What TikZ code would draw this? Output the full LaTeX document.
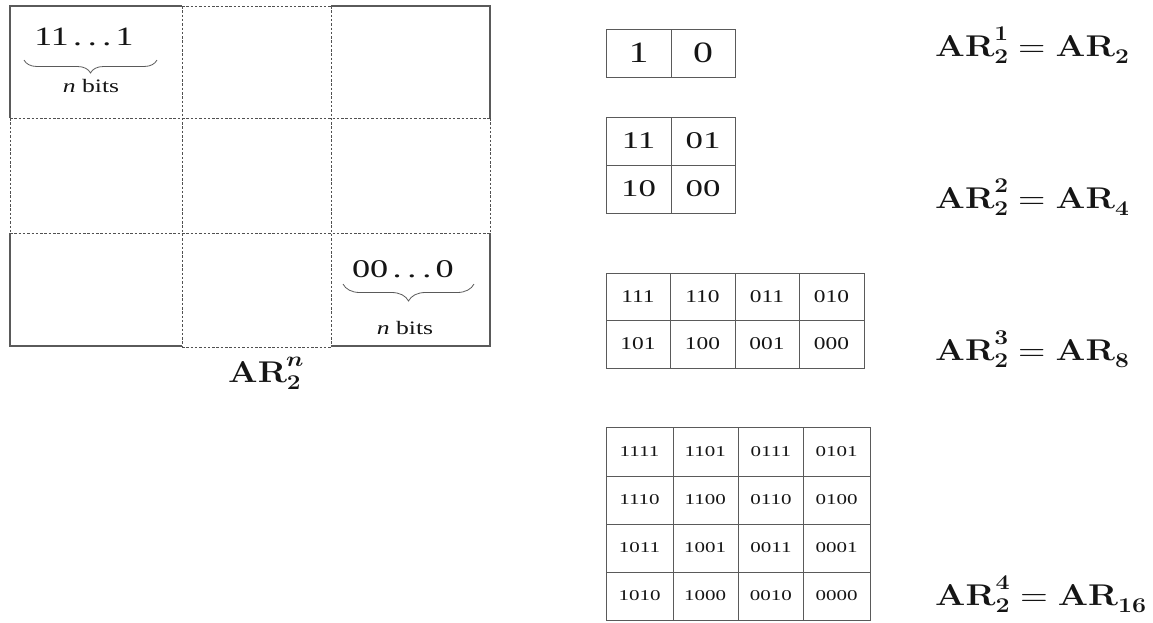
\documentclass[tikz,border=0pt]{standalone}
\usepackage{graphicx}
\usepackage{fontspec}
\usepackage{amsmath}
\usepackage{unicode-math}
\setmathfont{Latin Modern Math}
\newfontfamily\timesface{Liberation Serif}
\usetikzlibrary{decorations.pathreplacing}
\definecolor{linegray}{HTML}{5A5A5A}
\definecolor{inkdark}{HTML}{151515}
% horizontally widened text
\newcommand{\xwide}[2][1.35]{\scalebox{#1}[1]{#2}}
\newcommand{\spdots}{\kern0.12em.\kern0.16em.\kern0.16em.\kern0.12em}
\tikzset{
  solidedge/.style={draw=linegray, line width=1.2pt},
  dotedge/.style={draw=linegray!90!black, line width=1pt, dash pattern=on 2.5pt off 1.8pt},
  tableline/.style={draw=linegray, line width=1pt},
  bitbrace/.style={draw=linegray, line width=0.8pt, decorate,
    decoration={brace, mirror, amplitude=#1}},
  bigbits/.style={text=inkdark, inner sep=0pt, anchor=base, font=\timesface\fontsize{26.5}{30}\selectfont},
  smallnote/.style={text=inkdark, inner sep=0pt, anchor=base, font=\timesface\fontsize{19}{22}\selectfont},
  eqlabel/.style={text=inkdark, inner sep=0pt, anchor=base west, font=\fontsize{30}{36}\selectfont},
  cellA/.style={text=inkdark, inner sep=0pt, font=\timesface\fontsize{29.5}{34}\selectfont},
  cellB/.style={text=inkdark, inner sep=0pt, font=\timesface\fontsize{24}{28}\selectfont},
  cellC/.style={text=inkdark, inner sep=0pt, font=\timesface\fontsize{18}{22}\selectfont},
  cellD/.style={text=inkdark, inner sep=0pt, font=\timesface\fontsize{15}{18}\selectfont},
}
\begin{document}
\begin{tikzpicture}[x=1pt,y=-1pt]
\useasboundingbox (0,0) rectangle (1153,622);

% ---- 3x3 block layout of AR_2^n ----
% inner grid lines and the middle parts of the border, dotted
\draw[dotedge] (182,6) -- (182,347);
\draw[dotedge] (331,6) -- (331,347);
\draw[dotedge] (10,118) -- (490,118);
\draw[dotedge] (10,233) -- (490,233);
\draw[dotedge] (182,6) -- (331,6);
\draw[dotedge] (182,347) -- (331,347);
\draw[dotedge] (10,118) -- (10,233);
\draw[dotedge] (490,118) -- (490,233);
% the four corner blocks have solid outer edges
\draw[solidedge] (182,6) -- (10,6) -- (10,118);
\draw[solidedge] (331,6) -- (490,6) -- (490,118);
\draw[solidedge] (10,233) -- (10,346) -- (182,346);
\draw[solidedge] (490,233) -- (490,346) -- (331,346);

% all-ones code in the first block
\node[bigbits] (ones) at (84,45) {\xwide{11\spdots1}};
\coordinate (onesL) at (24,60);
\coordinate (onesR) at (157,60);
\draw[bitbrace=13pt] (onesL) -- (onesR);
\node[smallnote] (onesn) at (91,92) {\xwide{\textit{n} bits}};

% all-zeros code in the last block
\node[bigbits, font=\timesface\fontsize{25.5}{30}\selectfont] (zeros) at (403,277) {\xwide[1.42]{00\spdots0}};
\coordinate (zerosL) at (343,284);
\coordinate (zerosR) at (474,284);
\draw[bitbrace=17pt] (zerosL) -- (zerosR);
\node[smallnote] (zerosn) at (405,334) {\xwide{\textit{n} bits}};

\node[eqlabel] (arn) at (228,382) {\xwide[1.16]{$\mathbf{AR}_{\mathbf{2}}^{\symbfit{n}}$}};

% ---- AR_2 : 1 x 2 ----
\draw[tableline] (606,29) rectangle (735,77);
\draw[tableline] (671,29) -- (671,77);
\node[cellA] (a1) at (638.5,53) {\xwide{1}};
\node[cellA] (a0) at (703,53) {\xwide{0}};

% ---- AR_4 : 2 x 2 ----
\draw[tableline] (606,117) rectangle (735,213);
\draw[tableline] (671,117) -- (671,213);
\draw[tableline] (606,165) -- (735,165);
\node[cellB] (b11) at (638.5,141) {\xwide[1.45]{11}};
\node[cellB] (b01) at (703,141) {\xwide[1.45]{01}};
\node[cellB] (b10) at (638.5,189) {\xwide[1.45]{10}};
\node[cellB] (b00) at (703,189) {\xwide[1.45]{00}};

% ---- AR_8 : 2 x 4 ----
\draw[tableline] (606,273) rectangle (864,368);
\foreach \x in {670,735,799} \draw[tableline] (\x,273) -- (\x,368);
\draw[tableline] (606,320) -- (864,320);
\foreach \t [count=\i from 0] in {111,110,011,010}
  \node[cellC] (c1\i) at ({638+64.5*\i},296.5) {\xwide[1.3]{\t}};
\foreach \t [count=\i from 0] in {101,100,001,000}
  \node[cellC] (c2\i) at ({638+64.5*\i},344) {\xwide[1.3]{\t}};

% ---- AR_16 : 4 x 4 ----
\draw[tableline] (606,427) rectangle (870,620);
\foreach \x in {673,738,803} \draw[tableline] (\x,427) -- (\x,620);
\foreach \y in {476,524,572} \draw[tableline] (606,\y) -- (870,\y);
\foreach \row/\yy [count=\r] in {{1111,1101,0111,0101}/451.5,
                                 {1110,1100,0110,0100}/500,
                                 {1011,1001,0011,0001}/548,
                                 {1010,1000,0010,0000}/596}
  \foreach \t [count=\i from 0] in \row
    \node[cellD] (d\r\i) at ({639.5+65.7*\i},\yy) {\xwide[1.4]{\t}};

% ---- equations ----
\node[eqlabel] (eq1) at (935,56) {\xwide[1.17]{$\mathbf{AR}_{\mathbf{2}}^{\mathbf{1}}=\mathbf{AR}_{\mathbf{2}}$}};
\node[eqlabel] (eq2) at (935,208) {\xwide[1.17]{$\mathbf{AR}_{\mathbf{2}}^{\mathbf{2}}=\mathbf{AR}_{\mathbf{4}}$}};
\node[eqlabel] (eq3) at (935,360) {\xwide[1.17]{$\mathbf{AR}_{\mathbf{2}}^{\mathbf{3}}=\mathbf{AR}_{\mathbf{8}}$}};
\node[eqlabel] (eq4) at (935,605) {\xwide[1.19]{$\mathbf{AR}_{\mathbf{2}}^{\mathbf{4}}=\mathbf{AR}_{\mathbf{16}}$}};
\end{tikzpicture}
\end{document}
